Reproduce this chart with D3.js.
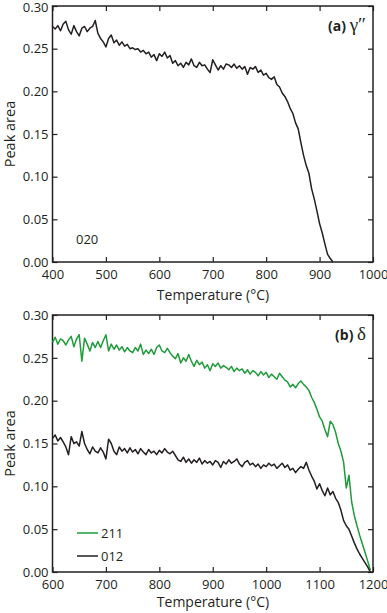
<!DOCTYPE html>
<html>
<head>
<meta charset="utf-8">
<script src="https://cdn.jsdelivr.net/npm/d3@7"></script>
<style>
  body { margin: 0; background: #fff; }
  text { font-family: "Open Sans", sans-serif; fill: #231f20; }
</style>
</head>
<body>
<svg id="chart" width="387" height="613"></svg>
<script>
// ---- data ----
var tempStep = 5;

// (a) gamma'' , 020 peak, 400..925 C
var tempsA = d3.range(400, 926, tempStep);
var peak020 = [
  0.276, 0.273, 0.277, 0.271, 0.279, 0.282, 0.272, 0.267, 0.277, 0.270,
  0.265, 0.274, 0.276, 0.270, 0.274, 0.276, 0.283, 0.268, 0.262, 0.258,
  0.252, 0.262, 0.266, 0.257, 0.260, 0.254, 0.258, 0.253, 0.255, 0.250,
  0.251, 0.249, 0.250, 0.246, 0.248, 0.244, 0.246, 0.240, 0.243, 0.236,
  0.244, 0.241, 0.246, 0.239, 0.242, 0.233, 0.236, 0.230, 0.233, 0.228,
  0.234, 0.231, 0.238, 0.230, 0.228, 0.234, 0.230, 0.231, 0.226, 0.222,
  0.237, 0.231, 0.225, 0.230, 0.226, 0.232, 0.231, 0.228, 0.232, 0.227,
  0.230, 0.226, 0.229, 0.220, 0.228, 0.226, 0.229, 0.222, 0.225, 0.219,
  0.221, 0.216, 0.214, 0.217, 0.208, 0.205, 0.198, 0.194, 0.188, 0.180,
  0.174, 0.163, 0.156, 0.140, 0.125, 0.113, 0.104, 0.086, 0.074, 0.060,
  0.045, 0.034, 0.021, 0.009, 0.004, 0.000
];

// (b) delta, 211 and 012 peaks, 600..1195 C
var tempsB = d3.range(600, 1196, tempStep);
var peak211 = [
  0.268, 0.274, 0.266, 0.272, 0.270, 0.265, 0.271, 0.275, 0.263, 0.272,
  0.277, 0.246, 0.273, 0.266, 0.258, 0.268, 0.262, 0.269, 0.262, 0.270,
  0.277, 0.258, 0.266, 0.260, 0.265, 0.259, 0.263, 0.257, 0.262, 0.258,
  0.256, 0.262, 0.258, 0.266, 0.254, 0.259, 0.255, 0.260, 0.254, 0.262,
  0.265, 0.258, 0.256, 0.261, 0.256, 0.252, 0.249, 0.255, 0.244, 0.250,
  0.246, 0.254, 0.246, 0.240, 0.247, 0.242, 0.245, 0.238, 0.242, 0.235,
  0.243, 0.240, 0.244, 0.238, 0.241, 0.239, 0.236, 0.240, 0.234, 0.238,
  0.235, 0.237, 0.232, 0.236, 0.231, 0.235, 0.233, 0.229, 0.234, 0.230,
  0.233, 0.227, 0.231, 0.228, 0.225, 0.232, 0.228, 0.224, 0.222, 0.216,
  0.219, 0.215, 0.220, 0.223, 0.219, 0.216, 0.212, 0.204, 0.198, 0.190,
  0.181, 0.176, 0.166, 0.158, 0.176, 0.172, 0.163, 0.150, 0.141, 0.128,
  0.098, 0.113, 0.082, 0.066, 0.054, 0.043, 0.033, 0.023, 0.013, 0.002
];
var peak012 = [
  0.156, 0.160, 0.153, 0.157, 0.152, 0.146, 0.137, 0.158, 0.150, 0.152,
  0.147, 0.164, 0.150, 0.143, 0.138, 0.146, 0.141, 0.139, 0.145, 0.140,
  0.132, 0.155, 0.150, 0.141, 0.137, 0.146, 0.141, 0.144, 0.139, 0.145,
  0.140, 0.143, 0.138, 0.144, 0.140, 0.137, 0.143, 0.139, 0.141, 0.137,
  0.142, 0.139, 0.144, 0.140, 0.138, 0.141, 0.136, 0.131, 0.129, 0.134,
  0.128, 0.132, 0.127, 0.131, 0.128, 0.133, 0.126, 0.130, 0.127, 0.129,
  0.125, 0.130, 0.128, 0.122, 0.129, 0.126, 0.131, 0.127, 0.129, 0.132,
  0.126, 0.123, 0.128, 0.130, 0.125, 0.127, 0.123, 0.126, 0.121, 0.125,
  0.123, 0.127, 0.124, 0.126, 0.121, 0.124, 0.127, 0.122, 0.125, 0.119,
  0.121, 0.116, 0.120, 0.123, 0.121, 0.128, 0.119, 0.112, 0.106, 0.097,
  0.103, 0.095, 0.089, 0.098, 0.090, 0.094, 0.086, 0.081, 0.072, 0.060,
  0.054, 0.050, 0.042, 0.034, 0.027, 0.021, 0.016, 0.011, 0.006, 0.000
];

var yTicks = [0, 0.05, 0.10, 0.15, 0.20, 0.25, 0.30];
var xTicksA = [400, 500, 600, 700, 800, 900, 1000];
var xTicksB = [600, 700, 800, 900, 1000, 1100, 1200];

var green = '#1f9b3a',
    ink = '#231f20';

var svg = d3.select('#chart');

// draw one framed panel with inward ticks on all four sides
var _draw_panel = function (cfg) {
  var x = d3.scaleLinear().domain(cfg.xDomain).range([52.5, 373]);
  var y = d3.scaleLinear().domain([0, 0.3]).range([cfg.bottom, cfg.top]);
  var g = svg.append('g');
  var tk = 5;

  g.append('g').attr('transform', `translate(0,${cfg.bottom})`)
    .call(d3.axisBottom(x).tickValues(cfg.xTicks).tickSize(-tk).tickPadding(8).tickFormat(d3.format('d')));
  g.append('g').attr('transform', `translate(0,${cfg.top})`)
    .call(d3.axisTop(x).tickValues(cfg.xTicks).tickSize(-tk).tickFormat(''));
  var yAxisG = g.append('g').attr('transform', `translate(${x.range()[0]},0)`)
    .call(d3.axisLeft(y).tickValues(yTicks).tickSize(-tk).tickPadding(4).tickFormat(d3.format('.2f')));
  g.append('g').attr('transform', `translate(${x.range()[1]},0)`)
    .call(d3.axisRight(y).tickValues(yTicks).tickSize(-tk).tickFormat(''));

  g.selectAll('.domain').remove();
  g.selectAll('.tick line').attr('stroke', ink).attr('stroke-width', 1.2);
  g.selectAll('.tick text').style('font-size', '13px').style('font-family', '"Open Sans", sans-serif').attr('fill', ink);

  // top label sits against the page edge in panel (a): nudge it down a touch
  if (cfg.nudgeTop) {
    yAxisG.selectAll('.tick text').filter(function (d) { return d === 0.30; })
      .attr('dy', '0.40em');
  }

  g.append('rect')
    .attr('x', x.range()[0]).attr('y', cfg.top)
    .attr('width', x.range()[1] - x.range()[0]).attr('height', cfg.bottom - cfg.top)
    .attr('fill', 'none').attr('stroke', ink).attr('stroke-width', 1.5);

  var line = d3.line()
    .x(function (d) { return x(d[0]); })
    .y(function (d) { return y(d[1]); });

  cfg.series.forEach(function (s) {
    g.append('path')
      .attr('d', line(d3.zip(cfg.temps, s.values)))
      .attr('fill', 'none')
      .attr('stroke', s.color)
      .attr('stroke-width', 1.5)
      .attr('stroke-linejoin', 'round');
  });

  g.append('text')
    .attr('x', 213).attr('y', cfg.titleY)
    .attr('text-anchor', 'middle')
    .style('font-size', '14px')
    .text('Temperature (\u00b0C)');

  g.append('text')
    .attr('transform', `translate(15,${(cfg.top + cfg.bottom) / 2}) rotate(-90)`)
    .attr('text-anchor', 'middle')
    .style('font-size', '14.5px')
    .text('Peak area');

  var lbl = g.append('text')
    .attr('x', 366).attr('y', cfg.top + 25)
    .attr('text-anchor', 'end')
    .style('font-size', '14px');
  lbl.append('tspan').style('font-weight', 'bold').text(cfg.tag + ' ');
  lbl.append('tspan').style('font-family', '"Liberation Serif", serif').style('font-size', '19px').text(cfg.phase);

  return { x: x, y: y, g: g };
};

var pa = _draw_panel({
  xDomain: [400, 1000], xTicks: xTicksA, top: 6, bottom: 262, titleY: 300, nudgeTop: true,
  temps: tempsA, series: [{ values: peak020, color: ink }],
  tag: '(a)', phase: '\u03b3\u2033'
});
pa.g.append('text').attr('x', 76).attr('y', 244).style('font-size', '13px').text('020');

var pb = _draw_panel({
  xDomain: [600, 1200], xTicks: xTicksB, top: 315, bottom: 572, titleY: 607,
  temps: tempsB, series: [{ values: peak211, color: green }, { values: peak012, color: ink }],
  tag: '(b)', phase: '\u03b4'
});

// legend
var legendItems = [{ name: '211', color: green }, { name: '012', color: ink }];
var leg = pb.g.append('g').attr('transform', 'translate(77,533)');
legendItems.forEach(function (d, i) {
  leg.append('line').attr('x1', 0).attr('x2', 21).attr('y1', i * 23).attr('y2', i * 23)
    .attr('stroke', d.color).attr('stroke-width', 1.5);
  leg.append('text').attr('x', 24).attr('y', i * 23 + 5).style('font-size', '13px').text(d.name);
});
</script>
</body>
</html>
